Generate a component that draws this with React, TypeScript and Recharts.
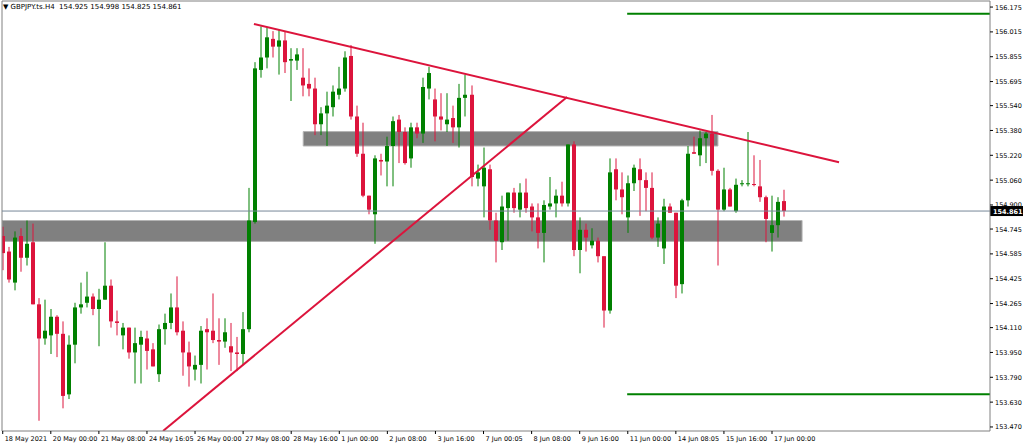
import React from 'react';
import { ComposedChart, Bar, XAxis, YAxis, ReferenceLine, ReferenceArea } from 'recharts';

// GBPJPY H4 candles, 18 May 2021 16:00 .. 17 Jun 2021 08:00
const openPrices = [
  154.70, 154.60, 154.40, 154.70, 154.56, 154.66, 154.26, 154.04, 154.06, 154.18,
  154.07, 153.68, 154.00, 154.24, 154.27, 154.31, 154.23, 154.29, 154.38, 154.15,
  154.06, 154.11, 153.95, 154.00, 154.04, 153.97, 153.81, 154.10, 154.14, 154.24,
  154.09, 153.95, 153.84, 153.87, 154.10, 154.09, 154.03, 154.02, 153.99, 153.95,
  153.94, 154.10, 154.79, 155.77, 155.85, 155.97, 155.92, 155.96, 155.83, 155.83,
  155.72, 155.68, 155.65, 155.42, 155.49, 155.53, 155.61, 155.65, 155.86, 155.47,
  155.23, 154.96, 154.84, 155.19, 155.18, 155.28, 155.45, 155.37, 155.20, 155.40,
  155.36, 155.65, 155.58, 155.47, 155.42, 155.46, 155.40, 155.59, 155.61, 155.07,
  155.02, 155.13, 154.80, 154.66, 154.88, 154.98, 154.87, 154.98, 154.89, 154.82,
  154.72, 154.89, 154.91, 154.96, 154.91, 155.29, 154.61, 154.74, 154.64, 154.67,
  154.57, 154.22, 155.13, 155.00, 154.82, 155.04, 155.13, 155.06, 155.01, 154.69,
  154.62, 154.89, 154.85, 154.39, 154.93, 155.24, 155.22, 155.33, 155.36, 155.12,
  154.87, 155.00, 154.86, 155.035, 155.035, 155.035, 155.02, 154.95, 154.72, 154.77,
  154.925,
];

const highPrices = [
  154.76, 154.63, 154.73, 154.75, 154.80, 154.78, 154.30, 154.29, 154.23, 154.19,
  154.15, 154.06, 154.27, 154.40, 154.47, 154.33, 154.36, 154.66, 154.42, 154.22,
  154.14, 154.11, 154.11, 154.09, 154.09, 154.01, 154.13, 154.20, 154.33, 154.44,
  154.15, 154.02, 153.93, 154.12, 154.17, 154.33, 154.17, 154.17, 154.14, 154.05,
  154.21, 155.01, 155.82, 156.05, 156.04, 156.02, 156.03, 156.02, 155.91, 155.91,
  155.91, 155.78, 155.72, 155.53, 155.63, 155.67, 155.79, 155.89, 155.93, 155.54,
  155.43, 154.96, 155.22, 155.23, 155.34, 155.47, 155.48, 155.40, 155.43, 155.43,
  155.72, 155.79, 155.65, 155.62, 155.62, 155.54, 155.68, 155.74, 155.67, 155.16,
  155.27, 155.16, 154.85, 154.96, 154.98, 155.01, 155.04, 155.07, 154.91, 154.91,
  154.93, 155.08, 155.00, 155.05, 155.29, 155.31, 154.82, 154.78, 154.75, 154.69,
  154.57, 155.20, 155.20, 155.11, 155.09, 155.16, 155.20, 155.11, 155.11, 154.82,
  154.94, 154.91, 154.85, 154.94, 155.28, 155.34, 155.38, 155.37, 155.48, 155.13,
  155.14, 155.01, 155.07, 155.06, 155.37, 155.22, 155.19, 154.96, 154.96, 154.95,
  154.998,
];

const lowPrices = [
  154.48, 154.40, 154.35, 154.47, 154.51, 154.26, 153.51, 154.00, 153.94, 153.92,
  153.59, 153.65, 153.88, 154.20, 154.24, 154.19, 153.99, 154.29, 154.11, 154.06,
  153.97, 153.91, 153.75, 153.75, 153.84, 153.86, 153.76, 154.00, 154.10, 154.06,
  153.80, 153.73, 153.77, 153.75, 153.84, 154.01, 153.87, 153.98, 153.83, 153.83,
  153.87, 154.08, 154.78, 155.72, 155.78, 155.85, 155.74, 155.75, 155.57, 155.77,
  155.60, 155.60, 155.35, 155.35, 155.28, 155.47, 155.58, 155.63, 155.45, 155.21,
  154.95, 154.84, 154.65, 155.09, 155.02, 155.02, 155.17, 155.16, 155.14, 155.33,
  155.30, 155.58, 155.31, 155.38, 155.37, 155.30, 155.27, 155.47, 155.02, 155.02,
  154.82, 154.74, 154.53, 154.61, 154.67, 154.85, 154.82, 154.85, 154.73, 154.62,
  154.53, 154.87, 154.82, 154.89, 154.89, 154.57, 154.46, 154.60, 154.62, 154.53,
  154.11, 154.20, 154.93, 154.84, 154.72, 154.99, 154.83, 154.86, 154.68, 154.63,
  154.52, 154.85, 154.30, 154.33, 154.89, 155.23, 155.15, 155.17, 155.09, 154.51,
  154.86, 154.89, 154.85, 155.02, 155.02, 155.02, 154.92, 154.66, 154.60, 154.69,
  154.825,
];

const closePrices = [
  154.59, 154.42, 154.69, 154.56, 154.65, 154.26, 154.04, 154.09, 154.18, 154.07,
  153.67, 154.00, 154.24, 154.26, 154.31, 154.23, 154.29, 154.38, 154.15, 154.14,
  154.11, 153.95, 154.01, 154.05, 153.96, 153.86, 154.10, 154.14, 154.24, 154.08,
  153.95, 153.86, 153.87, 154.09, 154.08, 154.03, 154.02, 154.08, 153.95, 153.94,
  154.10, 154.80, 155.78, 155.85, 155.98, 155.92, 155.96, 155.82, 155.84, 155.87,
  155.67, 155.65, 155.42, 155.49, 155.54, 155.63, 155.65, 155.85, 155.47, 155.23,
  154.96, 154.87, 155.20, 155.18, 155.28, 155.44, 155.37, 155.17, 155.40, 155.36,
  155.66, 155.75, 155.47, 155.45, 155.45, 155.40, 155.59, 155.61, 155.08, 155.11,
  155.14, 154.80, 154.67, 154.89, 154.98, 154.88, 154.98, 154.88, 154.82, 154.72,
  154.90, 154.91, 154.96, 154.91, 155.29, 154.61, 154.74, 154.69, 154.67, 154.57,
  154.22, 155.11, 155.00, 154.95, 155.04, 155.14, 155.06, 155.01, 154.69, 154.78,
  154.89, 154.85, 154.38, 154.93, 155.23, 155.23, 155.33, 155.36, 155.12, 154.87,
  155.00, 154.89, 155.03, 155.04, 155.04, 155.03, 154.95, 154.81, 154.77, 154.92,
  154.861,
];

const timeTickBars = [0, 8, 16, 24, 32, 40, 48, 56, 64, 72, 80, 88, 96, 104, 112, 120, 128];
const timeTickLabels = [
  '18 May 2021', '20 May 00:00', '21 May 08:00', '24 May 16:05', '26 May 00:00', '27 May 08:00',
  '28 May 16:00', '1 Jun 00:00', '2 Jun 08:00', '3 Jun 16:00', '7 Jun 00:05', '8 Jun 08:00',
  '9 Jun 16:00', '11 Jun 00:00', '14 Jun 08:05', '15 Jun 16:00', '17 Jun 00:00',
];

const priceTicks = [
  156.175, 156.015, 155.855, 155.695, 155.540, 155.380, 155.220, 155.060, 154.900,
  154.745, 154.585, 154.425, 154.265, 154.110, 153.950, 153.790, 153.630, 153.470,
];

const lastPrice = 154.861;
const headerText = 'GBPJPY.ts.H4  154.925 154.998 154.825 154.861';

// drawn objects (bar index / price)
const supportZone = { x1: -0.12, x2: 133.0, y1: 154.665, y2: 154.800 };
const resistZone = { x1: 50.0, x2: 119.0, y1: 155.280, y2: 155.373 };
const topLevel = { x1: 103.9, price: 156.132 };
const bottomLevel = { x1: 103.9, price: 153.680 };
const fallingLine = [{ x: 41.8, y: 156.066 }, { x: 139.15, y: 155.175 }];
const risingLine = [{ x: 26.67, y: 153.444 }, { x: 93.9, y: 155.595 }];

const X_DOMAIN = [-0.12, 164.27];
const Y_DOMAIN = [153.444, 156.214];

const GREEN = '#008000';
const RED = '#dc143c';
const FONT = '"DejaVu Sans", Verdana, sans-serif';

const candles = openPrices.map((o, i) => ({
  idx: i,
  open: o,
  high: highPrices[i],
  low: lowPrices[i],
  close: closePrices[i],
}));

function Candle(props: any) {
  const { x, y, width, height, payload } = props;
  if (x == null || !payload) return null;
  const { open, close, high, low } = payload;
  const top = Math.min(y, y + height);
  const h = Math.abs(height);
  const py = (v: number) => top + ((high - v) / (high - low || 1)) * h;
  const c = Math.round(x + width / 2);
  const color = close > open ? GREEN : RED;
  const yo = py(open);
  const yc = py(close);
  const bTop = Math.min(yo, yc);
  const bH = Math.max(1, Math.abs(yo - yc));
  return (
    <g>
      <line x1={c} x2={c} y1={top} y2={top + h} stroke={color} strokeWidth={1} />
      <rect x={c - 2} y={bTop} width={4} height={bH} fill={color} />
    </g>
  );
}

function PriceTick(props: any) {
  const { x, y, payload } = props;
  return (
    <g>
      <line x1={x} x2={x + 3} y1={y} y2={y} stroke="#000" strokeWidth={1} />
      <text x={x + 5} y={y + 2.5} fontSize={6.5} fontFamily={FONT} fill="#000">
        {Number(payload.value).toFixed(3)}
      </text>
    </g>
  );
}

function TimeTick(props: any) {
  const { x, y, payload } = props;
  const k = timeTickBars.indexOf(payload.value);
  return (
    <g>
      <line x1={x} x2={x} y1={y} y2={y + 3} stroke="#000" strokeWidth={1} />
      <text x={x + 2} y={y + 10} fontSize={6.5} fontFamily={FONT} fill="#000">
        {timeTickLabels[k]}
      </text>
    </g>
  );
}

function PriceTag(props: any) {
  const vb = props.viewBox || {};
  const right = (vb.x || 0) + (vb.width || 0);
  const y = vb.y || 0;
  return (
    <g>
      <rect x={right} y={y - 5} width={33} height={10} fill="#000" />
      <text x={right + 3} y={y + 2.5} fontSize={6.5} fontWeight="bold" fontFamily={FONT} fill="#fff">
        {lastPrice.toFixed(3)}
      </text>
    </g>
  );
}

export default function App() {
  return (
    <div style={{ position: 'absolute', left: 0, top: 0, width: 1024, height: 447, background: '#fff' }}>
      <ComposedChart
        width={1024}
        height={447}
        data={candles}
        margin={{ top: 1, right: 0, left: 2, bottom: 0 }}
      >
        <XAxis
          dataKey="idx"
          type="number"
          domain={X_DOMAIN}
          allowDataOverflow
          ticks={timeTickBars}
          interval={0}
          height={16}
          tickSize={0}
          tickMargin={0}
          tick={<TimeTick />}
          axisLine={{ stroke: '#808080' }}
          tickLine={false}
        />
        <YAxis
          orientation="right"
          type="number"
          domain={Y_DOMAIN}
          allowDataOverflow
          ticks={priceTicks}
          interval={0}
          width={34}
          tickSize={0}
          tickMargin={0}
          tick={<PriceTick />}
          axisLine={{ stroke: '#808080' }}
          tickLine={false}
        />
        <ReferenceLine x={X_DOMAIN[0]} stroke="#808080" />
        <ReferenceLine y={Y_DOMAIN[1]} stroke="#808080" />
        <ReferenceArea
          x1={supportZone.x1} x2={supportZone.x2} y1={supportZone.y1} y2={supportZone.y2}
          fill="#808080" fillOpacity={1} stroke="#b4b4b4" ifOverflow="hidden"
        />
        <ReferenceArea
          x1={resistZone.x1} x2={resistZone.x2} y1={resistZone.y1} y2={resistZone.y2}
          fill="#808080" fillOpacity={1} stroke="#b4b4b4" ifOverflow="hidden"
        />
        <ReferenceLine y={lastPrice} stroke="#778899" strokeWidth={1} label={<PriceTag />} />
        <Bar
          dataKey={(d: any) => [d.low, d.high]}
          barSize={4}
          shape={<Candle />}
          isAnimationActive={false}
        />
        <ReferenceLine
          segment={[{ x: topLevel.x1, y: topLevel.price }, { x: X_DOMAIN[1], y: topLevel.price }]}
          stroke={GREEN} strokeWidth={2} ifOverflow="hidden"
        />
        <ReferenceLine
          segment={[{ x: bottomLevel.x1, y: bottomLevel.price }, { x: X_DOMAIN[1], y: bottomLevel.price }]}
          stroke={GREEN} strokeWidth={2} ifOverflow="hidden"
        />
        <ReferenceLine segment={fallingLine} stroke={RED} strokeWidth={2} ifOverflow="hidden" />
        <ReferenceLine segment={risingLine} stroke={RED} strokeWidth={2} ifOverflow="hidden" />
      </ComposedChart>
      <div
        style={{
          position: 'absolute', left: 3, top: 3, fontSize: 7, fontFamily: FONT,
          color: '#000', whiteSpace: 'pre', lineHeight: '9px',
        }}
      >
        {'\u25BC ' + headerText}
      </div>
    </div>
  );
}
